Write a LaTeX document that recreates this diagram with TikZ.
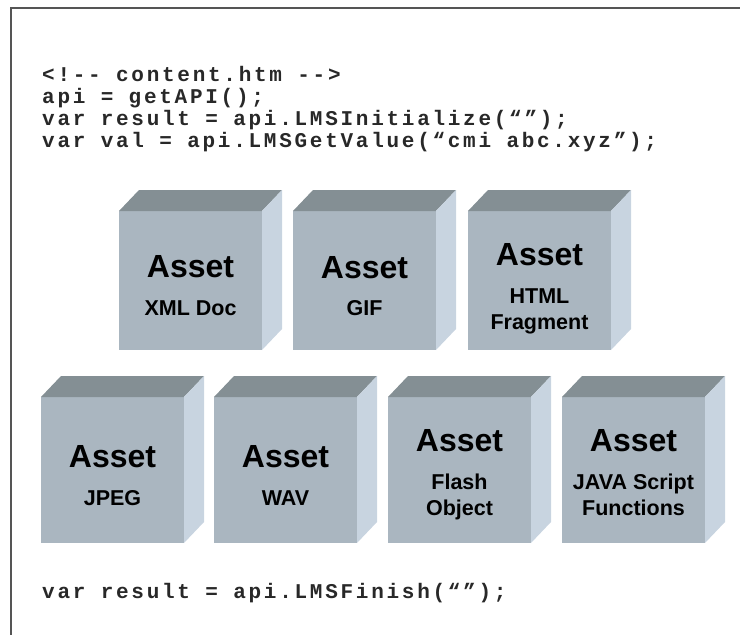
\documentclass[tikz,border=0pt]{standalone}
\usepackage{fontspec}
\setmainfont{Liberation Sans}
\newfontfamily\codefont[LetterSpace=13]{Liberation Mono}
\definecolor{frontc}{RGB}{170,182,192}
\definecolor{topc}{RGB}{132,143,148}
\definecolor{sidec}{RGB}{200,212,224}
\definecolor{framec}{RGB}{85,85,85}
\definecolor{codec}{RGB}{40,40,40}
\begin{document}
\begin{tikzpicture}[x=1pt,y=-1pt,
  front/.style={fill=frontc,draw=none,minimum width=143pt,inner sep=0pt,outer sep=0pt},
  topface/.style={fill=topc,draw=none},
  sideface/.style={fill=sidec,draw=none},
  title/.style={font=\bfseries\fontsize{32}{32}\selectfont,anchor=base,inner sep=0pt},
  sub/.style={font=\bfseries\fontsize{21.5}{25.5}\selectfont,anchor=base,align=center,inner sep=0pt},
  code/.style={font=\codefont\bfseries\fontsize{21}{21}\selectfont,text=codec,anchor=base west,inner sep=0pt},
  frame/.style={draw=framec,line width=2pt}]
\useasboundingbox (0,0) rectangle (740,635);
\draw[frame] (741,8) -- (11,8) -- (11,636);

\node[code] (l1) at (42,81) {<!-- content.htm -->};
\node[code] (l2) at (42,103) {api = getAPI();};
\node[code] (l3) at (42,125) {var result = api.LMSInitialize(“”);};
\node[code] (l4) at (42,147) {var val = api.LMSGetValue(“cmi abc.xyz”);};
\node[code] (l5) at (42,598) {var result = api.LMSFinish(“”);};

% cube macro: #1 name, #2 left x, #3 top y, #4 height
\newcommand\assetcube[4]{%
  \node[front,minimum height=#4pt,anchor=north west] (#1) at (#2,#3) {};
  \fill[topface] (#1.north west) -- ++(20,-21) -- ++(143,0) -- (#1.north east) -- cycle;
  \fill[sideface] (#1.north east) -- ++(20,-21) -- ++(0,#4) -- (#1.south east) -- cycle;
}
\assetcube{c1}{119}{211}{139}
\assetcube{c2}{293}{211}{139}
\assetcube{c3}{468}{211}{139}
\assetcube{c4}{41}{397}{146}
\assetcube{c5}{214}{397}{146}
\assetcube{c6}{388}{397}{146}
\assetcube{c7}{562}{397}{146}

\node[title] (t1) at ([yshift=-66pt]c1.north) {Asset};
\node[sub] (s1) at ([yshift=-104pt]c1.north) {XML Doc};
\node[title] (t2) at ([yshift=-67pt]c2.north) {Asset};
\node[sub] (s2) at ([yshift=-104pt]c2.north) {GIF};
\node[title] (t3) at ([yshift=-54pt]c3.north) {Asset};
\node[sub] (s3) at ([yshift=-118pt]c3.north) {HTML\\Fragment};
\node[title] (t4) at ([yshift=-70pt]c4.north) {Asset};
\node[sub] (s4) at ([yshift=-108pt]c4.north) {JPEG};
\node[title] (t5) at ([yshift=-70pt]c5.north) {Asset};
\node[sub] (s5) at ([yshift=-108pt]c5.north) {WAV};
\node[title] (t6) at ([yshift=-54pt]c6.north) {Asset};
\node[sub] (s6) at ([yshift=-118pt]c6.north) {Flash\\Object};
\node[title] (t7) at ([yshift=-54pt]c7.north) {Asset};
\node[sub] (s7) at ([yshift=-118pt]c7.north) {JAVA Script\\Functions};
\end{tikzpicture}
\end{document}
